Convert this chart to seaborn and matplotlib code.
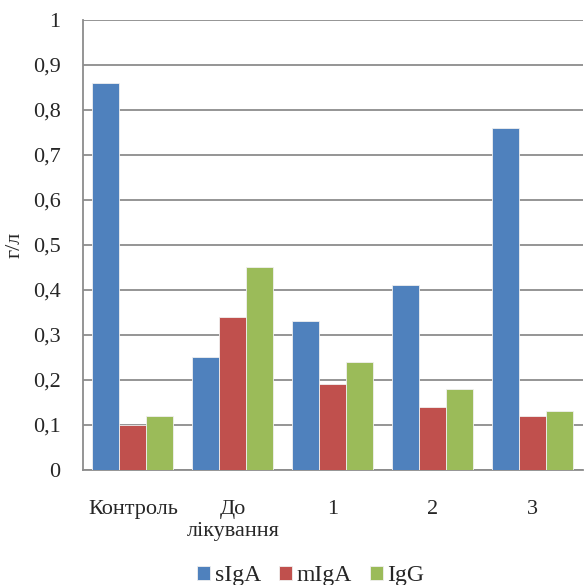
import pandas as pd
import matplotlib.pyplot as plt
import seaborn as sns
from matplotlib.ticker import FixedLocator

# Дані з графіка (г/л)
groups = ["Контроль", "До\nлікування", "1", "2", "3"]
siga = [0.86, 0.25, 0.33, 0.41, 0.76]
miga = [0.10, 0.34, 0.19, 0.14, 0.12]
igg = [0.12, 0.45, 0.24, 0.18, 0.13]
series = ["sIgA", "mIgA", "IgG"]
colors = ["#4F81BD", "#C0504D", "#9BBB59"]
yticks = [i / 10 for i in range(11)]

df = pd.DataFrame({"group": groups * 3,
                   "value": siga + miga + igg,
                   "series": [s for s in series for _ in groups]})

sns.set_style("white")
plt.rcParams["font.family"] = ["Liberation Serif", "DejaVu Serif"]

fig = plt.figure(figsize=(5.84, 5.85), dpi=100)
ax = fig.add_axes([0.142, 0.197, 0.856, 0.769])

sns.barplot(data=df, x="group", y="value", hue="series", palette=colors,
            saturation=1, width=0.81, order=groups, hue_order=series, ax=ax,
            edgecolor="#f0f0f0", linewidth=0.6, errorbar=None, zorder=3)

ax.set_ylim(0, 1)
ax.set_xlim(-0.5, len(groups) - 0.5)
ax.set_yticks(yticks)
ax.set_yticklabels([f"{v:g}".replace(".", ",") for v in yticks], fontsize=16)
ax.grid(axis="y", color="#8c8c8c", linewidth=1.3, zorder=0)
ax.set_axisbelow(True)

# межі категорій
ax.xaxis.set_minor_locator(FixedLocator([i - 0.5 for i in range(len(groups) + 1)]))
ax.tick_params(axis="x", which="major", length=0, pad=22, labelsize=16)
ax.tick_params(axis="x", which="minor", length=5, color="#8c8c8c", width=1.3, direction="out")
ax.tick_params(axis="y", length=6, color="#8c8c8c", width=1.3, direction="out", pad=10)
ax.set_xlabel("")
ax.set_ylabel("г/л", fontsize=16, labelpad=6)

for s in ["top", "right"]:
    ax.spines[s].set_visible(False)
for s in ["left", "bottom"]:
    ax.spines[s].set_color("#8c8c8c")
    ax.spines[s].set_linewidth(1.3)

ax.legend(loc="center", bbox_to_anchor=(0.456, -0.236), ncol=3, frameon=False,
          fontsize=17, handlelength=0.55, handleheight=0.55, handletextpad=0.2,
          columnspacing=0.75, borderpad=0)

fig.savefig("out.png", dpi=100)
